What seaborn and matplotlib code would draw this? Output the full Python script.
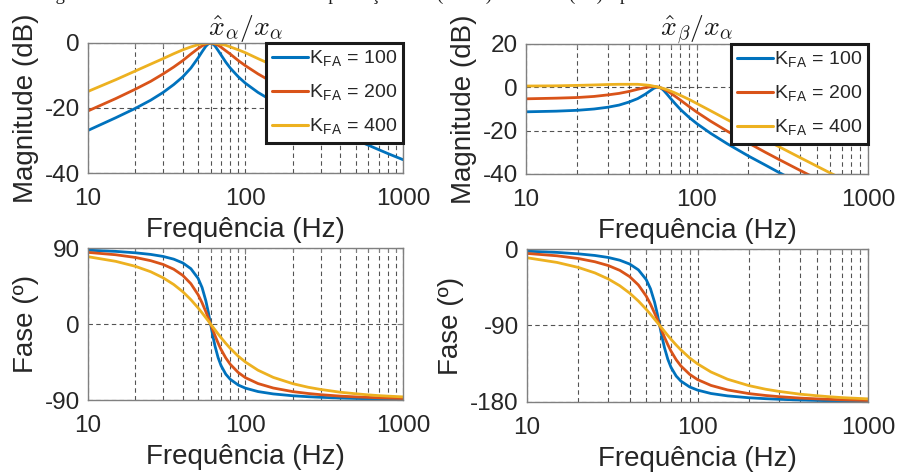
import matplotlib
matplotlib.use("Agg")
import matplotlib.pyplot as plt
import matplotlib.ticker as mticker
import pandas as pd
import seaborn as sns

# frequencies (Hz) where the curves were read
freq = [10, 15, 20, 25, 30, 35, 40, 45, 50, 53, 56, 58, 60, 62, 64, 67, 70, 75, 80, 90,
        100, 120, 150, 200, 250, 300, 400, 500, 600, 700, 800, 1000]

k_values = [100, 200, 400]

# x_alpha_hat / x_alpha, magnitude (dB)
mag_a_100 = [-26.9, -23.0, -20.1, -17.6, -15.2, -12.8, -10.4, -7.7, -4.6, -2.7, -1.0, -0.3, 0.0, -0.3, -0.9, -2.3,
             -3.7, -5.9, -7.7, -10.4, -12.4, -15.2, -18.0, -21.2, -23.4, -25.2, -27.8, -29.8, -31.4, -32.8, -34.0, -35.9]
mag_a_200 = [-20.9, -17.1, -14.2, -11.8, -9.5, -7.4, -5.4, -3.4, -1.7, -0.9, -0.3, -0.1, 0.0, -0.1, -0.3, -0.7,
             -1.3, -2.4, -3.4, -5.4, -7.0, -9.5, -12.2, -15.3, -17.5, -19.2, -21.8, -23.8, -25.4, -26.8, -28.0, -29.9]
mag_a_400 = [-14.9, -11.3, -8.6, -6.5, -4.8, -3.3, -2.1, -1.2, -0.5, -0.2, -0.1, 0.0, 0.0, 0.0, -0.1, -0.2,
             -0.4, -0.7, -1.2, -2.1, -3.0, -4.8, -6.9, -9.6, -11.7, -13.3, -15.9, -17.9, -19.5, -20.8, -22.0, -23.9]

# x_beta_hat / x_alpha, magnitude (dB)
mag_b_100 = [-11.3, -11.0, -10.6, -10.0, -9.2, -8.2, -6.8, -5.2, -3.1, -1.7, -0.4, 0.0, 0.0, -0.5, -1.5, -3.3,
             -5.1, -7.8, -10.2, -13.9, -16.8, -21.2, -26.0, -31.7, -35.8, -39.2, -44.3, -48.2, -51.4, -54.1, -56.5, -60.4]
mag_b_200 = [-5.3, -5.0, -4.7, -4.2, -3.5, -2.8, -1.9, -0.9, -0.1, 0.2, 0.3, 0.2, 0.0, -0.4, -0.8, -1.7,
             -2.6, -4.3, -5.9, -8.9, -11.5, -15.6, -20.2, -25.7, -29.9, -33.2, -38.3, -42.2, -45.4, -48.1, -50.5, -54.4]
mag_b_400 = [0.6, 0.7, 0.9, 1.1, 1.3, 1.4, 1.4, 1.4, 1.1, 0.9, 0.5, 0.3, 0.0, -0.3, -0.6, -1.1,
             -1.7, -2.7, -3.7, -5.6, -7.5, -10.8, -14.9, -20.1, -24.1, -27.3, -32.4, -36.3, -39.5, -42.1, -44.5, -48.4]

# x_alpha_hat / x_alpha, phase (deg)
ph_a_100 = [87.4, 86.0, 84.3, 82.4, 80.0, 76.8, 72.3, 65.5, 54.1, 43.2, 27.5, 14.4, 0.0, -13.9, -26.0, -39.8,
            -49.4, -59.5, -65.5, -72.3, -76.0, -80.0, -82.8, -85.0, -86.1, -86.8, -87.7, -88.2, -88.5, -88.7, -88.9, -89.1]
ph_a_200 = [84.8, 82.0, 78.8, 75.0, 70.5, 64.9, 57.5, 47.7, 34.7, 25.1, 14.6, 7.3, 0.0, -7.0, -13.7, -22.6,
            -30.3, -40.3, -47.7, -57.5, -63.6, -70.5, -75.8, -80.1, -82.3, -83.7, -85.4, -86.3, -86.9, -87.4, -87.7, -88.2]
ph_a_400 = [79.7, 74.2, 68.3, 61.9, 54.7, 46.8, 38.2, 28.8, 19.1, 13.2, 7.4, 3.7, 0.0, -3.5, -6.9, -11.8,
            -16.3, -23.0, -28.8, -38.2, -45.1, -54.7, -63.2, -70.7, -74.9, -77.5, -80.8, -82.6, -83.9, -84.8, -85.4, -86.3]

# x_beta_hat / x_alpha, phase (deg)
ph_b_100 = [-2.6, -4.0, -5.7, -7.6, -10.0, -13.2, -17.7, -24.5, -35.9, -46.8, -62.5, -75.6, -90.0, -103.9, -116.0, -129.8,
            -139.4, -149.5, -155.5, -162.3, -166.0, -170.0, -172.8, -175.0, -176.1, -176.8, -177.7, -178.2, -178.5, -178.7, -178.9, -179.1]
ph_b_200 = [-5.2, -8.0, -11.2, -15.0, -19.5, -25.1, -32.5, -42.3, -55.3, -64.9, -75.4, -82.7, -90.0, -97.0, -103.7, -112.6,
            -120.3, -130.3, -137.7, -147.5, -153.6, -160.5, -165.8, -170.1, -172.3, -173.7, -175.4, -176.3, -176.9, -177.4, -177.7, -178.2]
ph_b_400 = [-10.3, -15.8, -21.7, -28.1, -35.3, -43.2, -51.9, -61.2, -70.9, -76.8, -82.6, -86.3, -90.0, -93.5, -96.9, -101.8,
            -106.3, -113.0, -118.8, -128.2, -135.1, -144.7, -153.2, -160.7, -164.9, -167.5, -170.8, -172.6, -173.9, -174.8, -175.4, -176.3]

colors = ["#0072BD", "#D95319", "#EDB120"]
labels = [r"K$_\mathregular{FA}$ = %d" % k for k in k_values]

rows = []
series = {
    "mag_a": [mag_a_100, mag_a_200, mag_a_400],
    "mag_b": [mag_b_100, mag_b_200, mag_b_400],
    "ph_a": [ph_a_100, ph_a_200, ph_a_400],
    "ph_b": [ph_b_100, ph_b_200, ph_b_400],
}
for name, curves in series.items():
    for lab, vals in zip(labels, curves):
        for f, v in zip(freq, vals):
            rows.append({"panel": name, "K": lab, "freq": f, "value": v})
df = pd.DataFrame(rows)

sns.set_theme(style="white")
plt.rcParams["font.family"] = ["Liberation Sans", "DejaVu Sans"]
plt.rcParams["mathtext.fontset"] = "cm"
plt.rcParams["axes.unicode_minus"] = False

txt = "#262626"
fig = plt.figure(figsize=(8.98, 4.73), dpi=100)

W, H = 898, 473
def px_axes(x0, y0, x1, y1):
    return fig.add_axes([x0 / W, 1 - y1 / H, (x1 - x0) / W, (y1 - y0) / H])

ax_ma = px_axes(88, 43, 403, 173)
ax_mb = px_axes(526, 44, 868, 174)
ax_pa = px_axes(88, 248, 403, 400)
ax_pb = px_axes(527, 249, 868, 402)

palette = dict(zip(labels, colors))
setup = [
    (ax_ma, "mag_a", "Magnitude (dB)", (-40, 0), [-40, -20, 0], r"$\hat{x}_\alpha/x_\alpha$"),
    (ax_mb, "mag_b", "Magnitude (dB)", (-40, 20), [-40, -20, 0, 20], r"$\hat{x}_\beta/x_\alpha$"),
    (ax_pa, "ph_a", "Fase (º)", (-90, 90), [-90, 0, 90], None),
    (ax_pb, "ph_b", "Fase (º)", (-180, 0), [-180, -90, 0], None),
]

for ax, name, ylabel, ylim, yticks, title in setup:
    sns.lineplot(data=df[df["panel"] == name], x="freq", y="value", hue="K", palette=palette,
                 hue_order=labels, estimator=None, linewidth=2.0, ax=ax, legend=False)
    ax.set_xscale("log")
    ax.set_xlim(10, 1000)
    ax.set_ylim(*ylim)
    ax.set_yticks(yticks)
    ax.set_yticklabels([str(t) for t in yticks])
    ax.xaxis.set_major_locator(mticker.FixedLocator([10, 100, 1000]))
    ax.xaxis.set_major_formatter(mticker.FixedFormatter(["10", "100", "1000"]))
    ax.xaxis.set_minor_locator(mticker.LogLocator(base=10, subs=range(2, 10)))
    ax.xaxis.set_minor_formatter(mticker.NullFormatter())
    ax.grid(True, which="both", axis="x", color="k", linestyle=(0, (4, 3)), linewidth=0.8, alpha=0.75)
    ax.grid(True, which="major", axis="y", color="k", linestyle=(0, (4, 3)), linewidth=0.8, alpha=0.75)
    ax.tick_params(which="both", direction="in", top=True, right=True, colors="#808080",
                   labelcolor=txt, labelsize=17.5)
    ax.tick_params(which="major", length=4, width=0.8)
    ax.tick_params(which="minor", length=3, width=0.8)
    ax.tick_params(axis="x", which="major", pad=11)
    ax.tick_params(axis="y", which="major", pad=6)
    for sp in ax.spines.values():
        sp.set_color("#808080")
        sp.set_linewidth(1.0)
    ax.set_xlabel("Frequência (Hz)", fontsize=20, color=txt, labelpad=5)
    ax.set_ylabel(ylabel, fontsize=20, color=txt, labelpad=4)
    if title:
        ax.set_title(title, fontsize=20, color="k", pad=6)
        handles = [plt.Line2D([], [], color=c, linewidth=2.2) for c in colors]
        leg = ax.legend(handles, labels, loc="upper right", bbox_to_anchor=(1.0, 1.0), borderaxespad=0,
                        frameon=True, fancybox=False, edgecolor="k", framealpha=1, fontsize=14,
                        handlelength=1.85, handletextpad=0.05, labelspacing=0.7, borderpad=0.3)
        leg.get_frame().set_linewidth(2.2)
        for t in leg.get_texts():
            t.set_color(txt)

# caption of the page, mostly cut off at the top edge
cap = dict(family=["Liberation Serif", "DejaVu Serif"], fontsize=13.5, color="k", va="baseline", ha="left")
fig.text(40 / W, 1.0, "Figura 4.8 – Resultado da", **cap)
fig.text(296 / W, 1.0, "compensação", **cap)
fig.text(436 / W, 1.0, "(SOGI)", **cap)
fig.text(508 / W, 1.0, "e", **cap)
fig.text(568 / W, 1.0, "(FA)", **cap)
fig.text(620 / W, 1.0, "para", **cap)

fig.savefig("out.png", dpi=100)
